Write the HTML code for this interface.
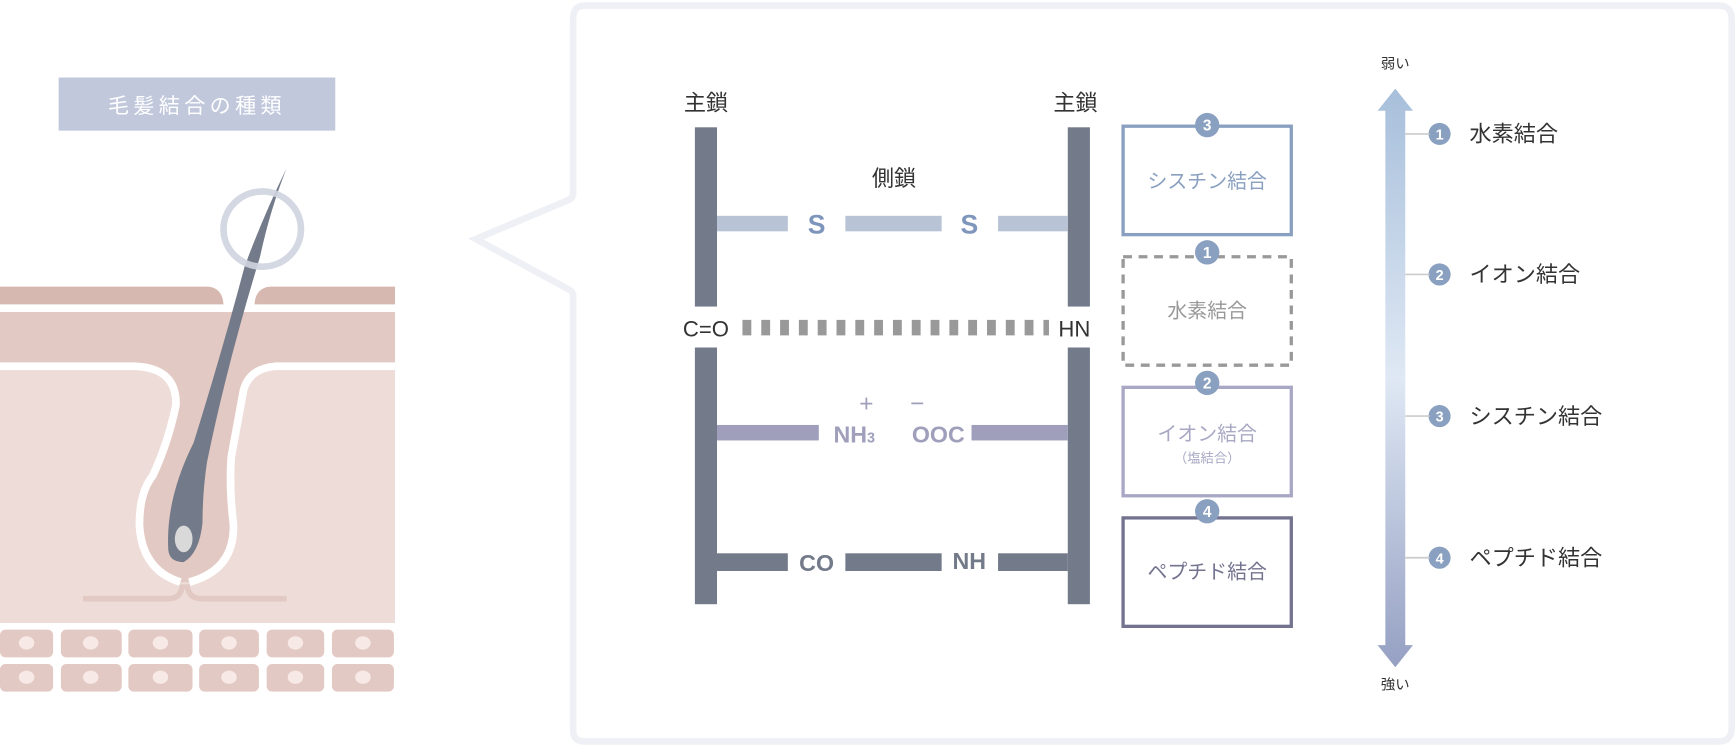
<!DOCTYPE html>
<html><head><meta charset="utf-8"><style>
html,body{margin:0;padding:0;background:#fff}
svg{display:block}
text{font-family:"Liberation Sans","Noto Sans CJK JP",sans-serif}
</style></head><body>
<svg width="1735" height="747" viewBox="0 0 1568 675" xmlns="http://www.w3.org/2000/svg">
<defs>
<linearGradient id="g" x1="0" y1="0" x2="0" y2="1">
<stop offset="0" stop-color="#a7bfdb"/><stop offset="0.5" stop-color="#dfe8f4"/><stop offset="1" stop-color="#95a0c3"/>
</linearGradient>
</defs>
<!-- panel -->
<path d="M528,5 H1553 Q1565,5 1565,17 V658 Q1565,670 1553,670 H528 Q518,670 518,660 V268 Q518,263 513,261 L430,216 L513,181 Q518,179 518,174 V17 Q518,5 528,5 Z" fill="#fff" stroke="#eff0f6" stroke-width="6"/>
<!-- title -->
<rect x="53" y="70" width="250" height="48" fill="#c1c8dc"/>
<text x="178" y="102" font-size="19" fill="#fff" text-anchor="middle" letter-spacing="4">毛髪結合の種類</text>
<!-- skin -->
<path d="M0,259 H188 Q201,260 202,275 H0 Z" fill="#d6b8b0"/>
<path d="M357,259 H244 Q231,260 230,275 H357 Z" fill="#d6b8b0"/>
<rect x="0" y="282" width="357" height="46" fill="#e3c9c3"/>
<rect x="0" y="328" width="357" height="235" fill="#eddcd7"/>
<path d="M0,282 H357 V331 H249 Q225,333 220,353 L209,413 Q207,440 211,474 Q212,515 171,526 H163 Q128,515 126,474 Q126,445 138,430 Q152,400 159,366 Q160,333 123,331 H0 Z" fill="#e3c9c3"/>
<path d="M0,331 H123 Q160,333 159,366 Q152,400 138,430 Q126,445 126,474 Q128,515 163,526 M171,526 Q212,515 211,474 Q207,440 209,413 L220,353 Q225,333 249,331 H357" fill="none" stroke="#fff" stroke-width="7"/>
<path d="M75,541 H152 Q164,541 165,528 M169,528 Q170,541 182,541 H259" fill="none" stroke="#e3c9c3" stroke-width="5"/>
<!-- hair -->
<path d="M259,152 Q244,190 235,232 Q205,330 187,418 Q183,445 183,473 Q180,500 166,508 Q152,508 152,495 Q150,450 175,400 Q200,320 221,241 Q238,195 259,152 Z" fill="#737a89"/>
<ellipse cx="166" cy="487" rx="8" ry="12" fill="#d9d9d9"/>
<ellipse cx="237" cy="207" rx="35" ry="34" fill="none" stroke="#cfd4e0" stroke-width="6" opacity="0.9"/>
<!-- cells -->
<g fill="#e3c9c3">
<rect x="0" y="569" width="48" height="25" rx="5"/><rect x="55" y="569" width="55" height="25" rx="5"/><rect x="116" y="569" width="58" height="25" rx="5"/><rect x="180" y="569" width="54" height="25" rx="5"/><rect x="241" y="569" width="52" height="25" rx="5"/><rect x="300" y="569" width="56" height="25" rx="5"/>
<rect x="0" y="600" width="48" height="25" rx="5"/><rect x="55" y="600" width="55" height="25" rx="5"/><rect x="116" y="600" width="58" height="25" rx="5"/><rect x="180" y="600" width="54" height="25" rx="5"/><rect x="241" y="600" width="52" height="25" rx="5"/><rect x="300" y="600" width="56" height="25" rx="5"/>
</g>
<g fill="#f6e9e6">
<ellipse cx="24" cy="581" rx="7" ry="6"/><ellipse cx="82" cy="581" rx="7" ry="6"/><ellipse cx="145" cy="581" rx="7" ry="6"/><ellipse cx="207" cy="581" rx="7" ry="6"/><ellipse cx="267" cy="581" rx="7" ry="6"/><ellipse cx="328" cy="581" rx="7" ry="6"/>
<ellipse cx="24" cy="612" rx="7" ry="6"/><ellipse cx="82" cy="612" rx="7" ry="6"/><ellipse cx="145" cy="612" rx="7" ry="6"/><ellipse cx="207" cy="612" rx="7" ry="6"/><ellipse cx="267" cy="612" rx="7" ry="6"/><ellipse cx="328" cy="612" rx="7" ry="6"/>
</g>
<!-- chains -->
<g fill="#737a89">
<rect x="628" y="115" width="20" height="162"/><rect x="628" y="314" width="20" height="232"/>
<rect x="965" y="115" width="20" height="162"/><rect x="965" y="314" width="20" height="232"/>
<rect x="648" y="500" width="64" height="16"/><rect x="764" y="500" width="87" height="16"/><rect x="902" y="500" width="63" height="16"/>
</g>
<g fill="#b8c3d5"><rect x="648" y="195" width="64" height="14"/><rect x="764" y="195" width="87" height="14"/><rect x="902" y="195" width="63" height="14"/></g>
<g fill="#9f9fbc"><rect x="648" y="384" width="92" height="14"/><rect x="878" y="384" width="87" height="14"/></g>
<line x1="671" y1="296" x2="948" y2="296" stroke="#999" stroke-width="14" stroke-dasharray="8,9"/>
<g font-size="20" fill="#333" text-anchor="middle">
<text x="638" y="100">主鎖</text><text x="972" y="100">主鎖</text><text x="808" y="168">側鎖</text>
<text x="638" y="304">C=O</text><text x="971" y="304">HN</text>
</g>
<g font-size="24" font-weight="bold" fill="#7f96bc" text-anchor="middle"><text x="738" y="211">S</text><text x="876" y="211">S</text></g>
<g font-size="21" font-weight="bold" fill="#9f9fbc" text-anchor="middle">
<text x="772" y="400">NH<tspan font-size="13">3</tspan></text><text x="848" y="400">OOC</text>
<text x="783" y="372" font-weight="normal" font-size="22">+</text><text x="829" y="372" font-weight="normal" font-size="22">−</text>
</g>
<g font-size="21" font-weight="bold" fill="#737a89" text-anchor="middle"><text x="738" y="516">CO</text><text x="876" y="514">NH</text></g>
<!-- boxes -->
<rect x="1015" y="114" width="152" height="98" fill="none" stroke="#8aa0c0" stroke-width="3"/>
<rect x="1015" y="232" width="152" height="98" fill="none" stroke="#999" stroke-width="3" stroke-dasharray="8,6"/>
<rect x="1015" y="350" width="152" height="98" fill="none" stroke="#a8a8c4" stroke-width="3"/>
<rect x="1015" y="468" width="152" height="98" fill="none" stroke="#737390" stroke-width="3"/>
<g font-size="18" text-anchor="middle">
<text x="1091" y="170" fill="#8aa0c0">シスチン結合</text>
<text x="1091" y="287" fill="#999">水素結合</text>
<text x="1091" y="398" fill="#a8a8c4">イオン結合</text>
<text x="1091" y="418" fill="#a8a8c4" font-size="12">（塩結合）</text>
<text x="1091" y="523" fill="#737390">ペプチド結合</text>
</g>
<g fill="#8aa0c0"><circle cx="1091" cy="113" r="11"/><circle cx="1091" cy="228" r="11"/><circle cx="1091" cy="346" r="11"/><circle cx="1091" cy="462" r="11"/>
<circle cx="1301" cy="121" r="10"/><circle cx="1301" cy="248" r="10"/><circle cx="1301" cy="376" r="10"/><circle cx="1301" cy="504" r="10"/></g>
<g font-size="14" font-weight="bold" fill="#fff" text-anchor="middle">
<text x="1091" y="118">3</text><text x="1091" y="233">1</text><text x="1091" y="351">2</text><text x="1091" y="467">4</text>
<text x="1301" y="126" font-size="13">1</text><text x="1301" y="253" font-size="13">2</text><text x="1301" y="381" font-size="13">3</text><text x="1301" y="509" font-size="13">4</text>
</g>
<!-- arrow -->
<path d="M1261,80 L1277,100 H1270 V583 H1277 L1261,603 L1245,583 H1252 V100 H1245 Z" fill="url(#g)"/>
<g stroke="#ccc" stroke-width="1.5"><line x1="1270" y1="121" x2="1292" y2="121"/><line x1="1270" y1="248" x2="1292" y2="248"/><line x1="1270" y1="376" x2="1292" y2="376"/><line x1="1270" y1="504" x2="1292" y2="504"/></g>
<g font-size="13" fill="#333" text-anchor="middle"><text x="1261" y="62">弱い</text><text x="1261" y="623">強い</text></g>
<g font-size="20" fill="#333"><text x="1328" y="128">水素結合</text><text x="1328" y="255">イオン結合</text><text x="1328" y="383">シスチン結合</text><text x="1328" y="511">ペプチド結合</text></g>
</svg>
</body></html>
